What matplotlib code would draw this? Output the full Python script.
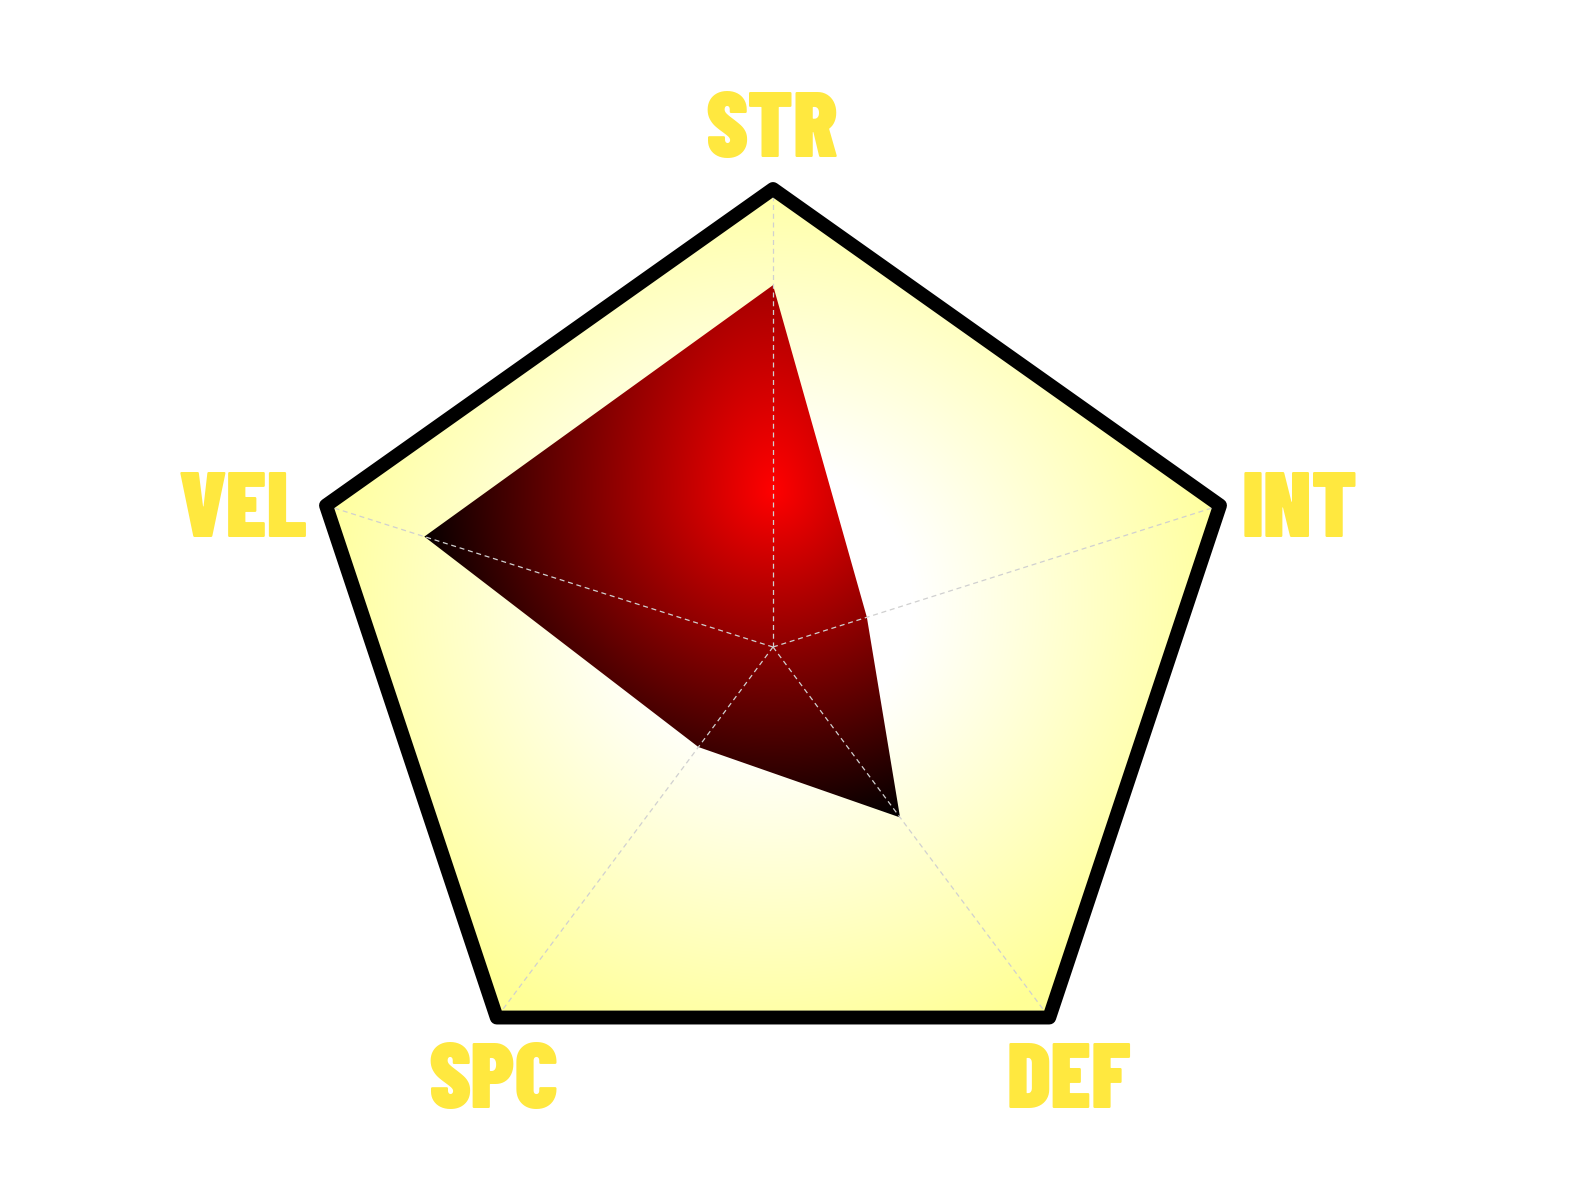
"""
Radar chart of five character stats, gradient fills.
"""

import numpy as np
import matplotlib
matplotlib.use("Agg")
import matplotlib.pyplot as plt
from matplotlib.patches import Polygon

# stats, clockwise from the top
categories = ['STR', 'INT', 'DEF', 'SPC', 'VEL']
values = [79, 21, 46, 27, 78]
max_value = 100

LABEL_COLOR = '#ffe83f'
PX_X, PX_Y = 470, 458  # pixels per unit radius
CX, CY = 773, 647  # centre in pixels from the top-left


def vertices(radii):
    angles = np.deg2rad(90 - 72 * np.arange(len(radii)))
    r = np.asarray(radii, dtype=float)
    return np.column_stack([r * np.cos(angles), r * np.sin(angles)])


fig = plt.figure(figsize=(15.83, 11.88), dpi=100)
ax = fig.add_axes([0, 0, 1, 1])
ax.set_xlim(-CX / PX_X, (1583 - CX) / PX_X)
ax.set_ylim(-(1188 - CY) / PX_Y, CY / PX_Y)
ax.axis('off')

outer = vertices([1.0] * len(categories))
data = vertices(np.array(values) / max_value)

# grid for the gradient images
xs = np.linspace(-1.1, 1.1, 800)
ys = np.linspace(-1.1, 1.1, 800)
X, Y = np.meshgrid(xs, ys)
extent = (-1.1, 1.1, -1.1, 1.1)

# background pentagon: white centre to pale yellow at the rim
bg_patch = Polygon(outer, closed=True, facecolor='none', edgecolor='none')
ax.add_patch(bg_patch)
d = np.hypot(X, Y - 0.1)
t = np.clip((d - 0.3) / 0.72, 0, 1)
bg = np.ones(X.shape + (3,))
bg[..., 2] = 1 - t * (105 / 255)
im = ax.imshow(bg, extent=extent, origin='lower', interpolation='bilinear',
               aspect='auto', zorder=1)
im.set_clip_path(bg_patch)

# data polygon: bright red spot fading to black, stretched upwards
data_patch = Polygon(data, closed=True, facecolor='none', edgecolor='none')
ax.add_patch(data_patch)
dx = X / 0.77
dy = (Y - 0.34) / np.where(Y > 0.34, 1.29, 0.76)
t = np.clip(np.hypot(dx, dy), 0, 1)
red = np.zeros(X.shape + (3,))
red[..., 0] = 1 - t
im2 = ax.imshow(red, extent=extent, origin='lower', interpolation='bilinear',
                aspect='auto', zorder=2)
im2.set_clip_path(data_patch)

# spokes
for x, y in outer:
    ax.plot([0, x], [0, y], color='#d0d0d0', lw=0.9, ls=(0, (4, 3)), zorder=3)

# outer frame
ax.add_patch(Polygon(outer, closed=True, facecolor='none', edgecolor='black',
                     lw=10, joinstyle='round', zorder=4))

# labels, placed by their baseline
offsets = [(-0.002, 0.070), (0.170, -0.069), (0.041, -0.198), (-0.006, -0.198), (-0.175, -0.069)]
for name, (x, y), (ox, oy) in zip(categories, outer, offsets):
    ax.text(x + ox, y + oy, name, ha='center', va='baseline', fontsize=66,
            fontweight=900, color=LABEL_COLOR,
            family=['Barlow Condensed', 'Anton', 'DejaVu Sans'], zorder=5)

fig.savefig('out.png', dpi=100)
